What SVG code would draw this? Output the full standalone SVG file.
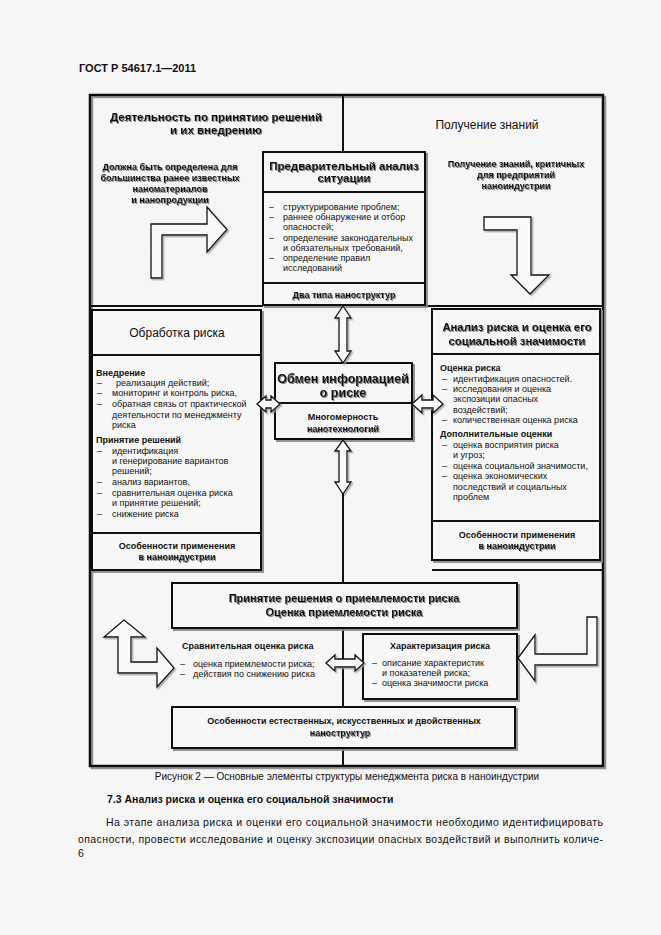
<svg xmlns="http://www.w3.org/2000/svg" width="661" height="935" viewBox="0 0 661 935">
<defs>
<style>
.t{font-family:"Liberation Sans",Arial,sans-serif;fill:#111}
.b{font-weight:bold}
.m{text-anchor:middle}
.s9{font-size:9px}
.s12{font-size:12px}
.box{fill:#f7f7f7;stroke:#111;stroke-width:2;filter:url(#bs)}
.ln{stroke:#111;stroke-width:2;fill:none}
.fr{stroke:#111;stroke-width:2.5;fill:none}
.arr{fill:#fafafa;stroke:#111;stroke-width:1.3;stroke-linejoin:miter;filter:url(#as)}
.sh{filter:url(#ts)}
</style>
<filter id="ts" x="-10%" y="-30%" width="120%" height="170%">
<feDropShadow dx="1" dy="1" stdDeviation="0.5" flood-color="#777" flood-opacity="0.9"/>
</filter>
<filter id="bs" x="-5%" y="-5%" width="115%" height="120%">
<feDropShadow dx="2" dy="2" stdDeviation="0.6" flood-color="#888" flood-opacity="0.9"/>
</filter>
<filter id="as" x="-10%" y="-10%" width="130%" height="130%">
<feDropShadow dx="1.5" dy="1.5" stdDeviation="0.6" flood-color="#999" flood-opacity="0.8"/>
</filter>
</defs>
<rect x="0" y="0" width="661" height="935" fill="#f6f6f6"/>
<text class="t b" x="79" y="72" font-size="11">ГОСТ Р 54617.1—2011</text>

<g id="frame">
<rect x="90" y="95" width="513" height="671" class="fr" filter="url(#bs)"/>
<line x1="343" y1="95" x2="343" y2="152" class="ln"/>
<line x1="90" y1="306" x2="263" y2="306" class="ln"/>
<line x1="425" y1="306" x2="603" y2="306" class="ln"/>
<line x1="432" y1="570" x2="603" y2="570" class="ln"/>
<line x1="343" y1="628" x2="343" y2="707" class="ln"/>
<line x1="343" y1="748" x2="343" y2="766" class="ln"/>
</g>

<g id="sphere-decision">
<text class="t b m sh" x="216" y="121" font-size="11.5">Деятельность по принятию решений</text>
<text class="t b m sh" x="216" y="134" font-size="11.5">и их внедрению</text>
<text class="t b m s9 sh" x="170" y="170">Должна быть определена для</text>
<text class="t b m s9 sh" x="170" y="181">большинства ранее известных</text>
<text class="t b m s9 sh" x="170" y="192">наноматериалов</text>
<text class="t b m s9 sh" x="170" y="203">и нанопродукции</text>
</g>

<g id="sphere-knowledge">
<text class="t m s12" x="487" y="129">Получение знаний</text>
<text class="t b m s9 sh" x="516" y="167">Получение знаний, критичных</text>
<text class="t b m s9 sh" x="516" y="178">для предприятий</text>
<text class="t b m s9 sh" x="516" y="189">наноиндустрии</text>
</g>

<g id="pre-assessment">
<rect x="263" y="152" width="162" height="153" class="box"/>
<line x1="263" y1="192" x2="425" y2="192" class="ln"/>
<line x1="263" y1="283" x2="425" y2="283" class="ln"/>
<text class="t b m sh" x="344" y="170" font-size="11.5">Предварительный анализ</text>
<text class="t b m sh" x="344" y="182" font-size="11.5">ситуации</text>
<g class="t s9">
<text x="269" y="210">–</text><text x="283" y="210">структурирование проблем;</text>
<text x="269" y="220">–</text><text x="283" y="220">раннее обнаружение и отбор</text>
<text x="283" y="230">опасностей;</text>
<text x="269" y="241">–</text><text x="283" y="241">определение законодательных</text>
<text x="283" y="251">и обязательных требований,</text>
<text x="269" y="261">–</text><text x="283" y="261">определение правил</text>
<text x="283" y="271">исследований</text>
</g>
<text class="t b m s9 sh" x="344" y="298">Два типа наноструктур</text>
</g>

<g id="risk-management">
<rect x="92" y="310" width="169" height="260" class="box"/>
<line x1="92" y1="355" x2="261" y2="355" class="ln"/>
<line x1="92" y1="533" x2="261" y2="533" class="ln"/>
<text class="t m s12" x="177" y="337">Обработка риска</text>
<g class="t s9">
<text class="b" x="96" y="376">Внедрение</text>
<text x="97" y="386">–</text><text x="116" y="386">реализация действий;</text>
<text x="97" y="396">–</text><text x="112" y="396">мониторинг и контроль риска,</text>
<text x="97" y="407">–</text><text x="112" y="407">обратная связь от практической</text>
<text x="112" y="418">деятельности по менеджменту</text>
<text x="112" y="428">риска</text>
<text class="b" x="96" y="443">Принятие решений</text>
<text x="97" y="454">–</text><text x="112" y="454">идентификация</text>
<text x="112" y="464">и генерирование вариантов</text>
<text x="112" y="474">решений;</text>
<text x="97" y="485">–</text><text x="112" y="485">анализ вариантов,</text>
<text x="97" y="496">–</text><text x="112" y="496">сравнительная оценка риска</text>
<text x="112" y="506">и принятие решений;</text>
<text x="97" y="517">–</text><text x="112" y="517">снижение риска</text>
</g>
<text class="t b m s9" x="177" y="549">Особенности применения</text>
<text class="t b m s9 sh" x="177" y="560">в наноиндустрии</text>
</g>

<g id="risk-appraisal">
<rect x="432" y="309" width="168" height="251" class="box"/>
<line x1="432" y1="354" x2="600" y2="354" class="ln"/>
<line x1="432" y1="521" x2="600" y2="521" class="ln"/>
<text class="t b m sh" x="517" y="331" font-size="11.3">Анализ риска и оценка его</text>
<text class="t b m sh" x="517" y="345" font-size="11.3">социальной значимости</text>
<g class="t s9">
<text class="b" x="440" y="371">Оценка риска</text>
<text x="442" y="381.5">–</text><text x="453" y="381.5">идентификация опасностей.</text>
<text x="442" y="392">–</text><text x="453" y="392">исследования и оценка</text>
<text x="453" y="402">экспозиции опасных</text>
<text x="453" y="412.5">воздействий;</text>
<text x="442" y="423">–</text><text x="453" y="423">количественная оценка риска</text>
<text class="b" x="440" y="437">Дополнительные оценки</text>
<text x="442" y="447.5">–</text><text x="453" y="447.5">оценка восприятия риска</text>
<text x="453" y="458">и угроз;</text>
<text x="442" y="468.5">–</text><text x="453" y="468.5">оценка социальной значимости,</text>
<text x="442" y="479">–</text><text x="453" y="479">оценка экономических</text>
<text x="453" y="489.5">последствий и социальных</text>
<text x="453" y="500">проблем</text>
</g>
<text class="t b m s9" x="517" y="538">Особенности применения</text>
<text class="t b m s9 sh" x="517" y="549">в наноиндустрии</text>
</g>

<g id="communication">
<rect x="275" y="363" width="137" height="76" class="box"/>
<line x1="275" y1="403" x2="412" y2="403" class="ln"/>
<text class="t b m sh" x="343" y="383" font-size="12.5">Обмен информацией</text>
<text class="t b m sh" x="343" y="397" font-size="12.5">о риске</text>
<text class="t b m s9" x="343" y="420">Многомерность</text>
<text class="t b m s9 sh" x="343" y="432">нанотехнологий</text>
</g>

<g id="evaluation">
<rect x="172" y="583" width="345" height="45" class="box"/>
<text class="t b m sh" x="344" y="602" font-size="11">Принятие решения о приемлемости риска</text>
<text class="t b m sh" x="344" y="616" font-size="11">Оценка приемлемости риска</text>
</g>

<g id="comparative">
<text class="t b s9" x="182" y="649">Сравнительная оценка риска</text>
<g class="t s9">
<text x="180" y="667">–</text><text x="193" y="667">оценка приемлемости риска;</text>
<text x="180" y="677">–</text><text x="193" y="677">действия по снижению риска</text>
</g>
</g>

<g id="characterisation">
<rect x="363" y="634" width="154" height="65" class="box"/>
<text class="t b m s9" x="440" y="649">Характеризация риска</text>
<g class="t s9">
<text x="372" y="666">–</text><text x="382" y="666">описание характеристик</text>
<text x="382" y="676">и показателей риска;</text>
<text x="372" y="686">–</text><text x="382" y="686">оценка значимости риска</text>
</g>
</g>

<g id="nanostructures">
<rect x="172" y="707" width="343" height="41" class="box"/>
<text class="t b m s9" x="344" y="724">Особенности естественных, искусственных и двойственных</text>
<text class="t b m s9 sh" x="340" y="736">наноструктур</text>
</g>

<g id="connectors">
<polygon class="arr" points="151,278 151,224 207,224 207,207 227,229.5 207,252 207,235 162,235 162,278"/>
<polygon class="arr" points="484,217 531,217 531,275 549,275 530,294 511,275 517,275 517,230 484,230"/>
<polygon class="arr" points="343,306 351,318 347,318 347,351 351,351 343,363 335,351 339,351 339,318 335,318"/>
<polygon class="arr" points="343,440 351,451 347,451 347,482 351,482 343,494 335,482 339,482 339,451 335,451"/>
<line x1="343" y1="494" x2="343" y2="583" class="ln"/>
<polygon class="arr" points="257,404 266,396 266,400 271,400 271,396 280,404 271,412 271,408 266,408 266,412"/>
<polygon class="arr" points="412,404 422,395 422,400 433,400 433,395 443,404 433,413 433,408 422,408 422,413"/>
<polygon class="arr" points="326,663 335,655 335,659 355,659 355,655 364,663 355,671 355,667 335,667 335,671"/>
<polygon class="arr" points="124,620 145,637 131,637 131,662 157,662 157,648 174,668 157,687 157,673 118,673 118,637 104,637"/>
<polygon class="arr" points="587,617 597,617 597,665 535,665 535,681 518,658 535,635 535,654 587,654"/>
</g>

<g id="caption">
<text class="t m" x="347" y="780" font-size="10">Рисунок 2 — Основные элементы структуры менеджмента риска в наноиндустрии</text>
<text class="t b" x="107" y="803" font-size="10.5">7.3  Анализ риска и оценка его социальной значимости</text>
<text class="t" x="106" y="826" font-size="10.5" textLength="497" lengthAdjust="spacing">На этапе анализа риска и оценки его социальной значимости необходимо идентифицировать</text>
<text class="t" x="78" y="843" font-size="10.5" textLength="525" lengthAdjust="spacing">опасности, провести исследование и оценку экспозиции опасных воздействий и выполнить количе-</text>
<text class="t" x="78" y="857" font-size="10.5">6</text>
</g>
</svg>
